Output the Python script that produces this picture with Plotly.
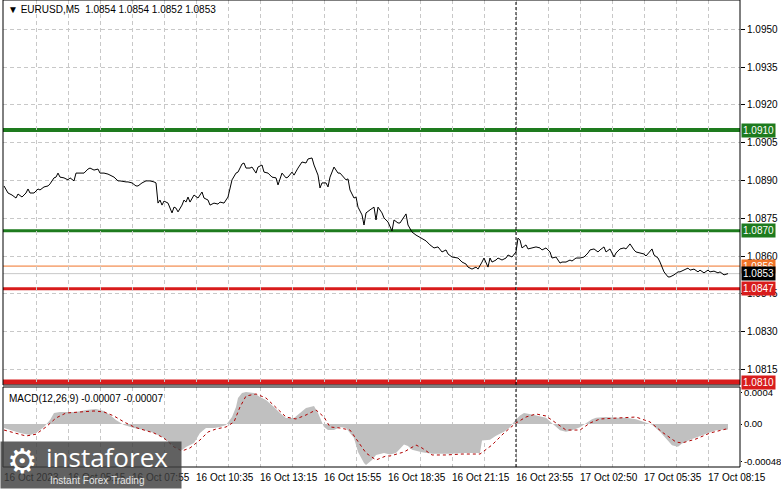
import plotly.graph_objects as go

# ---------------- data ----------------
bars = [0,2,4,6,7,9,11,12,13,15,
        17,18,20,22,23,25,26,27,28,30,
        32,33,35,36,38,40,42,43,45,47,
        48,50,52,53,55,57,58,61,62,64,
        66,67,69,71,73,75,76,77,78,79,
        80,82,83,84,85,86,87,89,90,91,
        92,93,95,97,99,100,102,103,105,107,
        108,110,112,113,114,116,117,119,120,121,
        123,124,126,127,129,130,132,134,136,137,
        138,139,141,142,144,145,147,149,151,152,
        154,155,157,158,159,161,162,163,165,167,
        168,170,171,172,173,175,176,177,179,180,
        181,183,185,186,187,189,190,192,194,195,
        197,198,201,202,204,206,207,209,211,213,
        215,217,219,221,222,224,226,227,229,231,
        232,234,236,237,239,240,242,243,244,246,
        247,249,251,252,254,256,257,258,259,261,
        262,264,266,268,269,271,273,274,276,278,
        279,281,283,284,286,288,290,292,293,295,
        297,298,300,301,303,305,306,308,310,311,
        313,315,316,318,320,321,323,324,325,327,
        328,329,330,332,333,335,337,338,340,342,
        343,345,347,348,350,352,353,355,357,358,
        360,362]
close = [1.08878,1.08850,1.08842,1.08830,1.08846,1.08834,1.08850,1.08866,1.08850,1.08850,
         1.08866,1.08862,1.08874,1.08878,1.08886,1.08910,1.08913,1.08929,1.08913,1.08910,
         1.08902,1.08910,1.08898,1.08929,1.08929,1.08929,1.08945,1.08949,1.08941,1.08945,
         1.08929,1.08929,1.08925,1.08921,1.08913,1.08898,1.08898,1.08894,1.08894,1.08890,
         1.08878,1.08878,1.08890,1.08898,1.08898,1.08894,1.08890,1.08810,1.08822,1.08802,
         1.08818,1.08810,1.08790,1.08771,1.08794,1.08790,1.08775,1.08802,1.08822,1.08814,
         1.08834,1.08814,1.08842,1.08830,1.08854,1.08830,1.08822,1.08802,1.08810,1.08806,
         1.08814,1.08810,1.08834,1.08874,1.08902,1.08929,1.08933,1.08965,1.08969,1.08949,
         1.08949,1.08953,1.08929,1.08953,1.08961,1.08933,1.08929,1.08913,1.08910,1.08882,
         1.08910,1.08929,1.08910,1.08913,1.08933,1.08921,1.08949,1.08973,1.08969,1.08985,
         1.08989,1.08961,1.08921,1.08870,1.08890,1.08890,1.08874,1.08913,1.08953,1.08929,
         1.08929,1.08910,1.08902,1.08906,1.08862,1.08830,1.08834,1.08794,1.08763,1.08723,
         1.08771,1.08783,1.08794,1.08743,1.08794,1.08771,1.08751,1.08735,1.08699,1.08743,
         1.08731,1.08731,1.08767,1.08723,1.08695,1.08683,1.08679,1.08671,1.08660,1.08644,
         1.08632,1.08636,1.08616,1.08624,1.08608,1.08596,1.08592,1.08592,1.08576,1.08568,
         1.08556,1.08548,1.08556,1.08548,1.08576,1.08592,1.08556,1.08592,1.08576,1.08584,
         1.08592,1.08584,1.08592,1.08604,1.08596,1.08616,1.08671,1.08663,1.08632,1.08644,
         1.08628,1.08632,1.08636,1.08632,1.08624,1.08632,1.08616,1.08592,1.08596,1.08572,
         1.08576,1.08576,1.08584,1.08580,1.08592,1.08592,1.08596,1.08612,1.08624,1.08628,
         1.08616,1.08624,1.08636,1.08616,1.08628,1.08596,1.08612,1.08628,1.08632,1.08628,
         1.08648,1.08624,1.08616,1.08612,1.08608,1.08600,1.08620,1.08628,1.08604,1.08592,
         1.08576,1.08552,1.08537,1.08517,1.08517,1.08525,1.08537,1.08537,1.08544,1.08552,
         1.08544,1.08548,1.08537,1.08544,1.08533,1.08544,1.08537,1.08540,1.08533,1.08537,
         1.08525,1.08530]

hist_bar = [0,3,8,13,16,20,23,25,28,31,
            36,41,46,50,53,56,60,65,70,75,
            80,83,86,89,91,95,98,101,105,108,
            111,114,116,117,119,121,125,128,131,135,
            138,141,145,148,151,155,157,160,162,165,
            168,171,175,177,180,181,184,186,190,193,
            196,200,202,204,209,214,223,230,238,239,
            243,246,250,253,255,258,260,264,268,271,
            274,278,281,284,288,291,294,296,301,306,
            311,316,321,324,328,331,334,337,339,343,
            346,351,356,361,362]
hist_val = [-0.000051,-0.000077,-0.000115,-0.00014,-0.000115,-0.000038,0.000051,0.00014,0.000153,0.000153,
            0.000153,0.000179,0.00019,0.000166,0.000115,0.000051,-0.000013,-0.000051,-0.000077,-0.000115,
            -0.000179,-0.000242,-0.000306,-0.000332,-0.000293,-0.000242,-0.000115,-0.000051,-0.000051,-0.000038,
            -0.000013,0.000089,0.000217,0.000332,0.000395,0.000408,0.000395,0.000344,0.000306,0.000217,
            0.00014,0.000077,0.000077,0.00014,0.000204,0.00023,0.00014,-0.000038,-0.000077,-0.000077,
            -0.000038,-0.000051,-0.000179,-0.000357,-0.000497,-0.000523,-0.000459,-0.000395,-0.00037,-0.00039,
            -0.00037,-0.00026,-0.00028,-0.00033,-0.00036,-0.00038,-0.00038,-0.00037,-0.00037,-0.00021,
            -0.00020,-0.00015,-0.00010,-0.00004,0.00003,0.00011,0.00014,0.00012,0.00010,0.00008,
            0.00001,-0.00008,-0.00010,-0.00008,-0.00004,0.00001,0.00006,0.00008,0.00009,0.00008,
            0.00008,0.00006,0.00002,-0.00001,-0.00010,-0.00018,-0.00027,-0.00029,-0.00025,-0.00020,
            -0.00017,-0.00012,-0.00008,-0.00007,-0.00007]

sig_bar = [0,5,11,16,21,26,31,38,45,50,
           55,60,65,70,75,80,85,89,93,98,
           102,106,111,115,118,121,126,131,136,141,
           146,151,156,160,163,168,173,177,181,186,
           191,193,200,206,209,214,221,229,238,244,
           250,256,261,266,271,276,281,288,293,298,
           306,316,323,329,336,339,346,353,361,362]
sig_val = [-0.000077,-0.000115,-0.000153,-0.00013,-0.000038,0.000077,0.00014,0.000153,0.000166,0.000153,
           0.000102,0.000026,-0.000038,-0.000077,-0.000115,-0.000179,-0.000293,-0.000344,-0.000306,-0.000204,
           -0.000102,-0.000064,-0.000038,0.000026,0.000217,0.000357,0.000383,0.000332,0.000217,0.000089,
           0.000064,0.000115,0.000179,0.000089,-0.000038,-0.000051,-0.000077,-0.00023,-0.00037,-0.000459,
           -0.000408,-0.000408,-0.000357,-0.000268,-0.000306,-0.000395,-0.000395,-0.000383,-0.000383,-0.000268,
           -0.000115,0.000013,0.000089,0.000128,0.000102,0.000013,-0.000077,-0.000077,0.000013,0.000064,
           0.000077,0.000089,0.000026,-0.000102,-0.00023,-0.000242,-0.000191,-0.000115,-0.000064,-0.00007]

price_ticks = [1.0815, 1.0830, 1.0845, 1.0860, 1.0875, 1.0890, 1.0905, 1.0920, 1.0935, 1.0950]
macd_ticks = [0.0004, 0.0, -0.00048]
macd_tick_text = ["0.0004", "0.00", "-0.00048"]

time_label_bars = [0, 32, 64, 96, 128, 160, 192, 224, 256, 288, 320, 352]
time_labels = ["16 Oct 2023", "16 Oct 05:15", "16 Oct 07:55", "16 Oct 10:35", "16 Oct 13:15",
               "16 Oct 15:55", "16 Oct 18:35", "16 Oct 21:15", "16 Oct 23:55", "17 Oct 02:50",
               "17 Oct 05:35", "17 Oct 08:15"]
grid_bars = list(range(0, 369, 16))
separator_bar = 256

levels = [1.0910, 1.0870, 1.0856, 1.0853, 1.0847, 1.0810]
level_labels = ["1.0910", "1.0870", "1.0856", "1.0853", "1.0847", "1.0810"]

title_text = "\u25bc EURUSD,M5  1.0854 1.0854 1.0852 1.0853"
macd_text = "MACD(12,26,9) -0.00007 -0.00007"

# ---------------- styles ----------------
GREEN = "#1e7b1e"
RED = "#d81c1c"
ORANGE = "#f07328"
level_line_colors = [GREEN, GREEN, ORANGE, "#c8c8c8", RED, RED]
level_line_widths = [4, 3, 1, 1, 3, 5]
level_box_colors = [GREEN, GREEN, ORANGE, "#000000", RED, RED]
FONT = "Liberation Sans, Arial, sans-serif"
GRID = "#c8c8c8"

W, H = 781, 489
ML, MR, MT, MB = 3, 41, 0, 22
plot_h = H - MT - MB
main_dom = [(plot_h - 385) / plot_h, 1.0]
macd_dom = [0.0, (plot_h - 387) / plot_h]

fig = go.Figure()
fig.add_trace(go.Scatter(x=hist_bar, y=hist_val, mode="lines", fill="tozeroy",
                         line=dict(width=0, color="#c0c0c0"), fillcolor="#c0c0c0",
                         xaxis="x2", yaxis="y2", hoverinfo="skip"))
fig.add_trace(go.Scatter(x=sig_bar, y=sig_val, mode="lines",
                         line=dict(width=1, color="#b00000", dash="3px,3px"),
                         xaxis="x2", yaxis="y2"))
fig.add_trace(go.Scatter(x=bars, y=close, mode="lines",
                         line=dict(width=1, color="#000000"), xaxis="x", yaxis="y"))

xcommon = dict(range=[-0.5, 368], tickvals=grid_bars, showticklabels=False, ticks="",
               showgrid=True, gridcolor=GRID, griddash="4px,3px", gridwidth=1,
               zeroline=False, showline=False, automargin=False, fixedrange=True)

fig.update_layout(
    template="none",
    width=W, height=H,
    margin=dict(l=ML, r=MR, t=MT, b=MB, pad=0, autoexpand=False),
    paper_bgcolor="white", plot_bgcolor="white",
    showlegend=False,
    font=dict(family=FONT, size=10, color="black"),
    xaxis=dict(domain=[0, 1], anchor="y", **xcommon),
    xaxis2=dict(domain=[0, 1], anchor="y2", **xcommon),
    yaxis=dict(domain=main_dom, anchor="x", side="right",
               range=[1.0910 - 255 / 25200, 1.0910 + 130 / 25200],
               tickvals=price_ticks, ticktext=[f"{v:.4f}" for v in price_ticks],
               ticks="outside", ticklen=4, tickcolor="black", tickwidth=1,
               tickfont=dict(family=FONT, size=10, color="black"),
               showgrid=True, gridcolor=GRID, griddash="4px,3px", gridwidth=1,
               zeroline=False, showline=False, automargin=False),
    yaxis2=dict(domain=macd_dom, anchor="x2", side="right",
                range=[-43 * 1.2754e-5, 37 * 1.2754e-5],
                tickvals=macd_ticks, ticktext=macd_tick_text,
                ticks="outside", ticklen=1, tickcolor="black", tickwidth=1,
                tickfont=dict(family=FONT, size=9.5, color="black"),
                showgrid=False, zeroline=False, showline=False, automargin=False),
)

shapes = []
for lv, c, w in zip(levels, level_line_colors, level_line_widths):
    shapes.append(dict(type="line", xref="paper", x0=0, x1=1, yref="y", y0=lv, y1=lv,
                       line=dict(color=c, width=w), layer="between"))
for ya in ["y domain", "y2 domain"]:
    shapes.append(dict(type="line", xref="x", x0=separator_bar, x1=separator_bar,
                       yref=ya, y0=0, y1=1, line=dict(color="black", width=1, dash="3px,2px"),
                       layer="above"))
shapes.append(dict(type="rect", xref="paper", yref="paper", x0=0, x1=1,
                   y0=main_dom[0], y1=main_dom[1], line=dict(color="black", width=1)))
shapes.append(dict(type="rect", xref="paper", yref="paper", x0=0, x1=1,
                   y0=macd_dom[0], y1=macd_dom[1], line=dict(color="black", width=1)))
fig.update_layout(shapes=shapes)

ann = []
ann.append(dict(text=title_text, xref="paper", yref="paper", x=0, y=1, xanchor="left",
                yanchor="top", xshift=3, yshift=-2, showarrow=False,
                font=dict(family=FONT, size=10, color="black")))
ann.append(dict(text=macd_text, xref="paper", yref="paper", x=0, y=macd_dom[1], xanchor="left",
                yanchor="top", xshift=4, yshift=-4, showarrow=False,
                font=dict(family=FONT, size=10, color="black")))
for lv, t, c in zip(levels, level_labels, level_box_colors):
    ann.append(dict(text=t, xref="paper", x=1, xanchor="left", xshift=1,
                    yref="y", y=lv, yanchor="middle", showarrow=False,
                    bgcolor=c, borderpad=1, font=dict(family=FONT, size=10, color="white")))
for b, t in zip(time_label_bars, time_labels):
    ann.append(dict(text=t, xref="x2", x=b, xanchor="left", xshift=-2,
                    yref="paper", y=0, yanchor="top", yshift=-3, showarrow=False,
                    font=dict(family=FONT, size=10, color="black")))
ann.append(dict(text=" ", xref="paper", yref="paper", x=-ML / (W - ML - MR), y=-MB / plot_h,
                xanchor="left", yanchor="bottom", width=180, height=46, showarrow=False,
                bgcolor="rgba(62,62,62,0.82)", borderpad=0))
ann.append(dict(text="\u2699", xref="paper", yref="paper", x=(22 - ML) / (W - ML - MR),
                y=(plot_h - 461) / plot_h, xanchor="center", yanchor="middle", showarrow=False,
                font=dict(family="DejaVu Sans", size=34, color="white")))
ann.append(dict(text="instaforex", xref="paper", yref="paper", x=(44 - ML) / (W - ML - MR),
                y=(plot_h - 457) / plot_h, xanchor="left", yanchor="middle", showarrow=False,
                font=dict(family="Open Sans", size=26, color="white")))
ann.append(dict(text="Instant Forex Trading", xref="paper", yref="paper", x=(48 - ML) / (W - ML - MR),
                y=(plot_h - 480) / plot_h, xanchor="left", yanchor="middle", showarrow=False,
                font=dict(family=FONT, size=10, color="#e6e6e6")))
fig.update_layout(annotations=ann)

fig.write_html("out.html", config={"displayModeBar": False},
               post_script="document.body.style.margin='0px';document.body.style.overflow='hidden';")
